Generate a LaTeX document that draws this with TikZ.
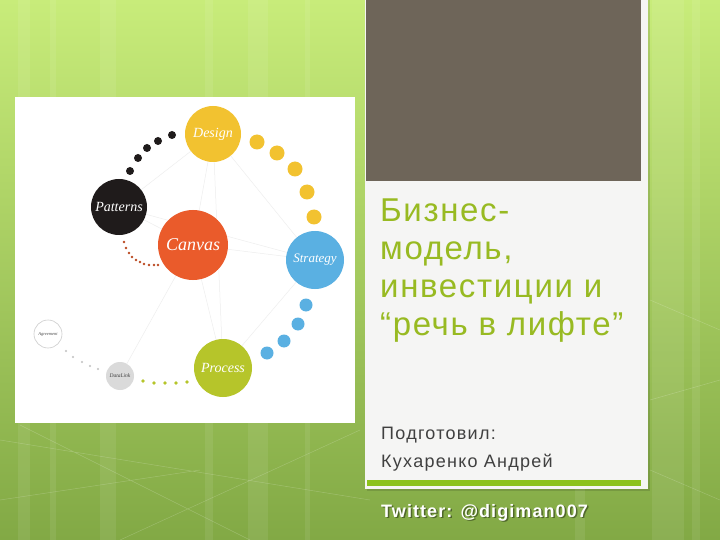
\documentclass[tikz,border=0pt]{standalone}
\usepackage{fontspec}
\usepackage{tikz}
\newfontfamily\slidefont{Liberation Sans}
\newfontfamily\bubblefont{Liberation Serif}

\definecolor{bgtop}{HTML}{C8EC7A}
\definecolor{bgbot}{HTML}{82A945}
\definecolor{panelbrown}{HTML}{6E6559}
\definecolor{panelgray}{HTML}{F5F5F4}
\definecolor{titlegreen}{HTML}{98BA22}
\definecolor{bargreen}{HTML}{8CC21C}
\definecolor{designyellow}{HTML}{F2C230}
\definecolor{patternsblack}{HTML}{1F1B1B}
\definecolor{canvasorange}{HTML}{EA5B2B}
\definecolor{strategyblue}{HTML}{5AB0E2}
\definecolor{processgreen}{HTML}{B6C52A}
\definecolor{datagray}{HTML}{DADADA}
\definecolor{linkgray}{HTML}{EEEEEE}

\pgfdeclarelayer{bg}
\pgfdeclarelayer{links}
\pgfsetlayers{bg,links,main}

\begin{document}
\begin{tikzpicture}[x=1pt,y=-1pt,
  bubble/.style={circle,inner sep=0pt,text=white,font=\bubblefont\itshape},
  link/.style={linkgray,line width=0.5pt}]
\useasboundingbox (0,0) rectangle (720,540);

\begin{pgfonlayer}{bg}
    \shade[top color=bgtop,bottom color=bgbot] (0,0) rectangle (720,540);
    \foreach \x/\w in {18/12,50/6,100/16,205/8,248/20,305/5,575/10,652/32,692/8}
        \fill[white,opacity=0.08] (\x,0) rectangle +(\w,540);
    \draw[white,opacity=0.2,line width=0.5pt] (0,440) -- (370,500)
        (20,425) -- (250,540) (120,540) -- (360,430) (0,500) -- (200,470)
        (650,300) -- (720,330) (650,400) -- (720,380) (650,470) -- (720,500);

    % picture card
    \fill[white] (15,97) rectangle (355,423);

    % title panel
    \fill[black,opacity=0.12] (367,0) rectangle (650,491);
    \fill[panelgray] (365,0) rectangle (648,489);
    \fill[panelbrown] (366,0) rectangle (641,181);
    \fill[bargreen] (367,480) rectangle (641,486);
\end{pgfonlayer}

% circles
\node[bubble,fill=designyellow,minimum size=56pt,font=\bubblefont\itshape\fontsize{14}{14}\selectfont] (design) at (213,134) {Design};
\node[bubble,fill=patternsblack,minimum size=56pt,font=\bubblefont\itshape\fontsize{14}{14}\selectfont] (patterns) at (119,207) {Patterns};
\node[bubble,fill=canvasorange,minimum size=70pt,font=\bubblefont\itshape\fontsize{18}{18}\selectfont] (canvas) at (193,245) {Canvas};
\node[bubble,fill=strategyblue,minimum size=58pt,font=\bubblefont\itshape\fontsize{13}{13}\selectfont] (strategy) at (315,260) {Strategy};
\node[bubble,fill=processgreen,minimum size=58pt,font=\bubblefont\itshape\fontsize{14}{14}\selectfont] (process) at (223,368) {Process};
\node[bubble,fill=white,draw=black!20,line width=0.6pt,text=black!70,minimum size=28pt,font=\bubblefont\itshape\fontsize{4.5}{4.5}\selectfont] (agreement) at (48,334) {Agreement};
\node[bubble,fill=datagray,text=black!75,minimum size=28pt,font=\bubblefont\itshape\fontsize{5.5}{5.5}\selectfont] (datalink) at (120,376) {DataLink};

% thin links behind the circles
\begin{pgfonlayer}{links}
    \foreach \a/\b in {design/patterns,design/canvas,design/strategy,design/process,
        patterns/canvas,patterns/strategy,canvas/strategy,canvas/process,
        canvas/datalink,strategy/process}
        \draw[link] (\a.center) -- (\b.center);
\end{pgfonlayer}

% dotted arcs
\foreach \p in {(130,171),(138,158),(147,148),(158,141),(172,135)}
    \fill[patternsblack] \p circle (4pt);
\foreach \p in {(257,142),(277,153),(295,169),(307,192),(314,217)}
    \fill[designyellow] \p circle (7.5pt);
\foreach \p in {(306,305),(298,324),(284,341),(267,353)}
    \fill[strategyblue] \p circle (6.5pt);
\foreach \p in {(124,242),(126,248),(129,253),(132,257),(136,260),(140,262),(144,264),(149,265),(154,265),(158,265)}
    \fill[canvasorange!80!black] \p circle (1.4pt);
\foreach \p in {(66,351),(73,357),(82,362),(90,366),(98,369)}
    \fill[black!25] \p circle (1.2pt);
\foreach \p in {(143,381),(154,383),(165,383),(176,383),(187,382)}
    \fill[processgreen] \p circle (1.8pt);

% title text
\node[anchor=north west,inner sep=0pt,align=left,text=titlegreen,
    font=\slidefont\addfontfeatures{LetterSpace=5}\fontsize{33}{38}\selectfont] (title) at (380,199)
    {Бизнес-\\модель,\\инвестиции и\\“речь в лифте”};
\node[anchor=north west,inner sep=0pt,align=left,text=black!75,
    font=\slidefont\addfontfeatures{LetterSpace=7}\fontsize{18}{28}\selectfont] (author) at (381,427)
    {Подготовил:\\Кухаренко Андрей};

% twitter line
\node[anchor=base west,inner sep=0pt,text=black,opacity=0.4,
    font=\slidefont\bfseries\addfontfeatures{LetterSpace=6}\fontsize{18}{18}\selectfont] at (382.5,518.5) {Twitter: @digiman007};
\node[anchor=base west,inner sep=0pt,text=white,
    font=\slidefont\bfseries\addfontfeatures{LetterSpace=6}\fontsize{18}{18}\selectfont] (twitter) at (381,517) {Twitter: @digiman007};
\end{tikzpicture}
\end{document}
